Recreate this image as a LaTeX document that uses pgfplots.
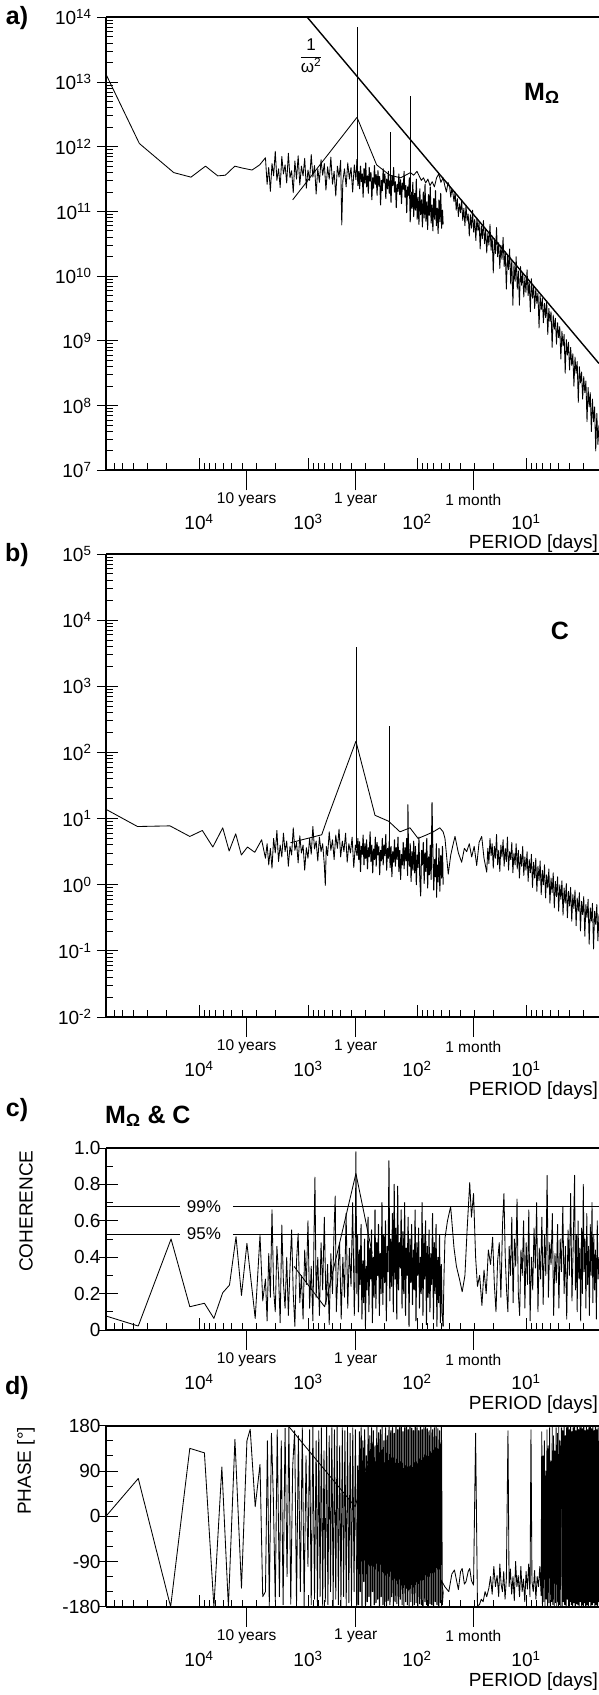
\documentclass[border=0pt]{standalone}
\usepackage{fontspec}
\setmainfont{Liberation Sans}
\usepackage{pgfplots}
\pgfplotsset{compat=1.18}
\newcommand\tl{\fontsize{19}{22}\selectfont}
\newcommand\sml{\fontsize{15.5}{18}\selectfont}
\newcommand\pct{\fontsize{17}{19}\selectfont}
\newcommand\pl{\fontsize{25}{28}\selectfont\bfseries}
\newcommand\sq[1]{10\textsuperscript{#1}}
\pgfplotsset{
 common/.style={
  scale only axis, width=493pt,
  axis x line*=box, axis y line*=left,
  xmin=0.33, xmax=4.853, x dir=reverse,
  xtick={1,2,3,4}, xticklabels={\sq{1},\sq{2},\sq{3},\sq{4}},
  minor xtick={0.477,0.602,0.699,0.778,0.845,0.903,0.954,1.301,1.477,1.602,1.699,1.778,1.845,1.903,1.954,2.301,2.477,2.602,2.699,2.778,2.845,2.903,2.954,3.301,3.477,3.602,3.699,3.778,3.845,3.903,3.954,4.301,4.477,4.602,4.699,4.778,4.845},
  extra x ticks={3.5626,2.5626,1.483},
  extra x tick style={tick align=outside, major tick length=20pt, xticklabel={}},
  xticklabel style={font=\tl, anchor=center, yshift=-52pt},
  yticklabel style={font=\tl},
  xtick pos=left, ytick pos=left,
  tick align=inside, major tick length=12pt, minor tick length=7pt,
  tick style={black, line width=0.9pt},
  axis line style={line width=1.8pt},
  clip mode=individual,
  cycle list={{black,mark=none}},
  every axis plot/.append style={line width=0.85pt},
  every axis plot post/.append style={black, mark=none, line join=round},
 }
}
\newcommand\xlabs[1]{%
 \node[font=\sml] at (axis cs:3.5626,#1) [yshift=-29.5pt] {10 years};
 \node[font=\sml] at (axis cs:2.5626,#1) [yshift=-29.5pt] {1 year};
 \node[font=\sml] at (axis cs:1.483,#1) [yshift=-29.5pt] {1 month};}
\begin{document}
\begin{tikzpicture}
\useasboundingbox (0,0) rectangle (599pt,-1695pt);
% ---------------- panel a
\begin{axis}[common, at={(106pt,-470.3pt)}, anchor=south west, height=453pt,
 ymin=7, ymax=14, ytick={7,8,9,10,11,12,13,14},
 yticklabels={\sq{7},\sq{8},\sq{9},\sq{10},\sq{11},\sq{12},\sq{13},\sq{14}},
 minor ytick={7.301,7.477,7.602,7.699,7.778,7.845,7.903,7.954,8.301,8.477,8.602,8.699,8.778,8.845,8.903,8.954,9.301,9.477,9.602,9.699,9.778,9.845,9.903,9.954,10.301,10.477,10.602,10.699,10.778,10.845,10.903,10.954,11.301,11.477,11.602,11.699,11.778,11.845,11.903,11.954,12.301,12.477,12.602,12.699,12.778,12.845,12.903,12.954,13.301,13.477,13.602,13.699,13.778,13.845,13.903,13.954},
 extra y ticks={7,8,9,10,11,12,13,14},
 extra y tick style={tick align=outside, major tick length=9pt, yticklabel={}},
 yticklabel style={xshift=-11pt}]
\addplot coordinates {(4.853,13.12)(4.547,12.05)(4.231,11.60)(4.073,11.53)(3.940,11.70)(3.828,11.55)(3.758,11.56)(3.671,11.70)(3.600,11.67)(3.513,11.64)(3.443,11.72)(3.390,11.83)
(3.375,11.42)(3.360,11.68)(3.345,11.31)(3.330,11.74)(3.315,11.55)(3.300,11.93)(3.285,11.48)(3.270,11.66)(3.255,11.37)(3.240,11.85)(3.225,11.58)(3.210,11.72)(3.195,11.44)(3.180,11.90)(3.165,11.52)(3.150,11.63)(3.135,11.29)(3.120,11.78)(3.105,11.50)(3.090,11.86)(3.075,11.41)(3.060,11.70)(3.045,11.55)(3.030,11.82)(3.015,11.36)(3.000,11.64)(2.985,11.48)(2.970,11.88)(2.955,11.53)(2.940,11.71)(2.925,11.27)(2.910,11.66)(2.895,11.45)(2.880,11.80)(2.865,11.56)(2.850,11.74)(2.835,11.33)(2.820,11.69)(2.805,11.50)(2.790,11.84)(2.775,11.42)(2.760,11.62)(2.745,11.24)(2.730,11.70)(2.715,11.53)(2.700,11.79)(2.690,10.79)(2.680,11.47)(2.665,11.66)(2.650,11.38)(2.635,11.75)(2.620,11.50)(2.605,11.68)(2.590,11.30)(2.575,11.72)(2.560,11.49)(2.550,11.81)};
\addplot[line width=1pt] coordinates {(2.550,11.81)
(2.542,11.40)(2.534,11.62)(2.526,11.35)(2.518,11.70)(2.510,11.46)(2.502,11.58)(2.494,11.22)(2.486,11.66)(2.478,11.44)(2.470,11.75)(2.462,11.38)(2.454,11.55)(2.446,11.28)(2.438,11.68)(2.430,11.47)(2.422,11.60)(2.414,11.18)(2.406,11.52)(2.398,11.36)(2.390,11.71)(2.382,11.42)(2.374,11.57)(2.366,11.25)(2.358,11.63)(2.350,11.39)(2.342,11.54)(2.334,11.10)(2.326,11.48)(2.318,11.32)(2.310,11.66)(2.302,11.44)(2.294,11.58)(2.286,11.20)(2.278,11.50)(2.270,11.35)(2.262,11.62)(2.254,11.28)(2.246,11.47)(2.238,11.14)(2.230,11.55)(2.222,11.40)(2.214,11.68)(2.206,11.30)(2.198,11.46)(2.190,11.06)(2.182,11.42)(2.174,11.31)(2.166,11.58)(2.158,11.26)(2.150,11.49)(2.142,11.12)(2.134,11.44)(2.126,11.34)(2.118,11.62)(2.110,11.22)(2.102,11.40)(2.094,10.98)(2.086,11.38)(2.078,11.25)(2.070,11.52)(2.062,10.84)(2.054,11.30)(2.046,11.05)(2.038,11.45)(2.030,10.92)(2.022,11.28)(2.014,11.02)(2.006,11.50)(1.998,10.88)(1.990,11.22)(1.982,10.80)(1.974,11.35)(1.966,10.95)(1.958,11.18)(1.950,10.76)(1.942,11.30)(1.934,10.90)(1.926,11.42)(1.918,10.85)(1.910,11.15)(1.902,10.72)(1.894,11.26)(1.886,10.94)(1.878,11.38)(1.870,10.82)(1.862,11.10)(1.854,10.70)(1.846,11.20)(1.838,10.88)(1.830,11.32)(1.822,10.78)(1.814,11.05)(1.806,10.66)(1.798,11.18)(1.790,10.84)(1.782,11.28)(1.774,10.74)(1.766,11.02)(1.760,10.80)};
% low resolution spectrum
\addplot coordinates {(3.14,11.18)(2.55,12.455)(2.37,11.72)(2.25,11.56)(2.15,11.52)(2.06,11.60)};
% daily series
\addplot coordinates {(2.060,11.60)(2.030,11.56)(2.000,11.62)(1.980,11.55)(1.960,11.48)(1.940,11.52)(1.920,11.44)(1.900,11.50)(1.880,11.40)(1.860,11.46)(1.840,11.38)(1.820,11.52)(1.800,11.58)(1.780,11.45)(1.760,11.52)(1.745,11.40)(1.730,11.30)(1.715,11.45)(1.700,11.38)(1.690,11.22)(1.680,11.35)(1.670,11.28)(1.660,11.15)(1.650,11.30)
(1.640,11.02)(1.630,11.20)(1.620,10.92)(1.610,11.12)(1.600,10.98)(1.590,11.18)(1.580,10.86)(1.570,11.05)(1.560,10.78)(1.550,11.10)(1.540,10.85)(1.530,10.96)(1.520,10.62)(1.510,10.95)(1.500,10.74)(1.490,11.02)(1.480,10.68)(1.470,10.88)(1.460,10.55)(1.450,10.90)(1.440,10.70)(1.430,10.84)(1.420,10.42)(1.410,10.78)(1.400,10.58)(1.390,10.86)(1.380,10.50)(1.370,10.72)(1.360,10.36)(1.350,10.66)(1.340,10.48)(1.330,10.80)(1.320,10.40)(1.310,10.62)(1.300,10.05)(1.290,10.58)(1.280,10.35)(1.270,10.75)(1.260,10.30)(1.250,10.52)(1.240,10.12)(1.230,10.48)(1.220,10.26)(1.210,10.60)(1.200,10.15)(1.190,10.38)(1.180,9.80)(1.170,10.32)(1.160,10.10)(1.150,10.42)(1.140,9.88)(1.130,10.25)(1.120,9.55)(1.110,10.18)(1.100,9.92)(1.090,10.30)(1.080,9.80)(1.070,10.08)(1.060,9.55)(1.050,10.15)(1.040,9.86)(1.030,10.05)(1.020,9.68)(1.010,9.98)(1.000,9.75)(0.990,10.10)(0.980,9.70)(0.970,9.92)(0.960,9.45)(0.950,9.96)(0.940,9.66)(0.930,9.85)(0.920,9.50)(0.910,9.80)(0.900,9.58)(0.890,9.74)(0.880,9.20)(0.870,9.70)(0.860,9.48)(0.850,9.66)(0.840,9.28)(0.830,9.58)(0.820,9.36)(0.810,9.62)(0.800,9.10)(0.790,9.50)(0.780,9.30)(0.770,9.45)(0.760,8.90)(0.750,9.40)(0.740,9.18)(0.730,9.35)(0.720,8.95)(0.710,9.28)(0.700,9.05)(0.690,9.22)(0.680,8.72)(0.670,9.15)(0.660,8.92)(0.650,9.10)(0.640,8.50)(0.630,9.02)(0.620,8.78)(0.610,8.98)(0.600,8.55)(0.590,8.90)(0.580,8.62)(0.570,8.80)(0.560,8.30)(0.550,8.75)(0.540,8.50)(0.530,8.68)(0.520,8.05)(0.510,8.60)(0.500,8.35)(0.490,8.52)(0.480,8.10)(0.470,8.45)(0.460,8.20)(0.450,8.38)(0.440,7.75)(0.430,8.28)(0.420,7.98)(0.410,8.20)(0.400,7.60)(0.390,8.10)(0.380,7.75)(0.370,7.98)(0.360,7.30)(0.350,7.88)(0.340,7.40)(0.330,7.70)};
% spectral lines
\addplot coordinates {(2.55,11.6)(2.55,13.85)};
\addplot coordinates {(2.241,11.4)(2.241,12.23)};
\addplot coordinates {(2.064,11.3)(2.064,12.79)};
% 1/omega^2
\addplot[line width=1.4pt] coordinates {(3.006,14)(0.33,8.65)};
\xlabs{7}
\end{axis}
% ---------------- panel b
\begin{axis}[common, at={(106pt,-1017pt)}, anchor=south west, height=463pt,
 ymin=-2, ymax=5, ytick={-2,-1,0,1,2,3,4,5},
 yticklabels={\sq{-2},\sq{-1},\sq{0},\sq{1},\sq{2},\sq{3},\sq{4},\sq{5}},
 minor ytick={-1.699,-1.523,-1.398,-1.301,-1.222,-1.155,-1.097,-1.046,-0.699,-0.523,-0.398,-0.301,-0.222,-0.155,-0.097,-0.046,0.301,0.477,0.602,0.699,0.778,0.845,0.903,0.954,1.301,1.477,1.602,1.699,1.778,1.845,1.903,1.954,2.301,2.477,2.602,2.699,2.778,2.845,2.903,2.954,3.301,3.477,3.602,3.699,3.778,3.845,3.903,3.954,4.301,4.477,4.602,4.699,4.778,4.845,4.903,4.954},
 extra y ticks={-2,-1,0,1,2,3,4,5},
 extra y tick style={tick align=outside, major tick length=9pt, yticklabel={}},
 yticklabel style={xshift=-11pt}]
\addplot coordinates {(4.853,1.14)(4.564,0.88)(4.266,0.89)(4.084,0.73)(3.969,0.82)(3.873,0.57)(3.782,0.86)(3.723,0.51)(3.663,0.77)(3.611,0.45)(3.555,0.57)(3.488,0.49)(3.425,0.68)(3.390,0.40)
(3.375,0.62)(3.360,0.30)(3.345,0.55)(3.330,0.25)(3.315,0.70)(3.300,0.48)(3.285,0.82)(3.270,0.35)(3.255,0.60)(3.240,0.42)(3.225,0.78)(3.210,0.50)(3.195,0.66)(3.180,0.28)(3.165,0.58)(3.150,0.45)(3.135,0.86)(3.120,0.52)(3.105,0.64)(3.090,0.33)(3.075,0.74)(3.060,0.48)(3.045,0.60)(3.030,0.22)(3.015,0.56)(3.000,0.40)(2.985,0.70)(2.970,0.46)(2.955,0.88)(2.940,0.54)(2.925,0.66)(2.910,0.36)(2.895,0.72)(2.880,0.50)(2.865,0.62)(2.850,0.30)(2.841,-0.01)(2.832,0.58)(2.820,0.44)(2.805,0.80)(2.790,0.52)(2.775,0.68)(2.760,0.38)(2.745,0.75)(2.730,0.55)(2.715,0.84)(2.700,0.42)(2.685,0.66)(2.670,0.50)(2.655,0.78)(2.640,0.34)(2.625,0.62)(2.610,0.48)(2.595,0.72)(2.580,0.26)(2.565,0.60)(2.550,0.44)};
\addplot[line width=1pt] coordinates {(2.550,0.44)
(2.542,0.70)(2.534,0.38)(2.526,0.65)(2.518,0.20)(2.510,0.58)(2.502,0.46)(2.494,0.75)(2.486,0.30)(2.478,0.62)(2.470,0.40)(2.462,0.68)(2.454,0.24)(2.446,0.56)(2.438,0.42)(2.430,0.80)(2.422,0.35)(2.414,0.60)(2.406,0.18)(2.398,0.54)(2.390,0.38)(2.382,0.72)(2.374,0.28)(2.366,0.64)(2.358,0.45)(2.350,0.58)(2.342,0.15)(2.334,0.52)(2.326,0.36)(2.318,0.70)(2.310,0.30)(2.302,0.60)(2.294,0.44)(2.286,0.76)(2.278,0.22)(2.270,0.55)(2.262,0.40)(2.254,0.66)(2.246,0.26)(2.238,0.58)(2.230,0.12)(2.222,0.50)(2.214,0.34)(2.206,0.68)(2.198,0.28)(2.190,0.56)(2.182,0.38)(2.174,0.72)(2.166,0.20)(2.158,0.52)(2.150,0.08)(2.142,0.46)(2.134,0.30)(2.126,0.64)(2.118,0.24)(2.110,0.56)(2.102,0.36)(2.094,0.70)(2.086,0.14)(2.083,1.21)(2.078,0.48)(2.070,0.28)(2.062,0.62)(2.054,0.05)(2.046,0.50)(2.038,0.22)(2.030,0.66)(2.022,0.18)(2.014,0.58)(2.006,0.00)(1.998,0.45)(1.990,0.26)(1.982,0.72)(1.974,0.10)(1.966,-0.17)(1.958,0.52)(1.950,0.30)(1.942,0.64)(1.934,0.02)(1.926,0.48)(1.918,0.20)(1.910,0.70)(1.902,-0.05)(1.894,0.42)(1.886,0.15)(1.878,0.60)(1.870,0.08)(1.862,1.24)(1.854,0.50)(1.846,-0.08)(1.838,0.38)(1.830,0.12)(1.822,0.62)(1.820,-0.19)(1.814,0.30)(1.806,0.04)(1.798,0.55)(1.790,-0.10)(1.782,0.44)(1.774,0.10)(1.766,0.58)(1.760,0.00)};
\addplot coordinates {(3.16,0.635)(2.874,0.755)(2.82,1.01)(2.56,2.17)(2.385,1.05)(2.26,0.96)(2.156,0.80)(2.064,0.86)(1.99,0.70)(1.91,0.755)(1.85,0.80)(1.79,0.86)};
\addplot coordinates {(1.790,0.86)(1.760,0.80)(1.743,0.70)(1.713,0.16)(1.690,0.45)(1.670,0.60)(1.651,0.73)(1.620,0.48)(1.590,0.34)(1.565,0.55)(1.544,0.50)(1.520,0.62)(1.498,0.42)(1.475,0.58)(1.452,0.29)(1.430,0.64)(1.406,0.73)(1.385,0.40)(1.360,0.19)(1.350,0.55)(1.340,0.32)(1.330,0.70)(1.320,0.44)(1.310,0.62)(1.300,0.25)(1.290,0.58)(1.280,0.40)(1.270,0.76)(1.260,0.30)(1.250,0.52)(1.240,0.20)(1.230,0.60)(1.220,0.42)(1.210,0.68)(1.200,0.28)(1.190,0.55)(1.180,0.35)(1.170,0.72)(1.160,0.22)(1.150,0.50)(1.140,0.38)(1.130,0.64)(1.120,0.18)(1.110,0.48)(1.100,0.30)(1.090,0.62)(1.080,0.24)(1.070,0.52)(1.060,0.10)(1.050,0.46)(1.040,0.28)(1.030,0.58)(1.020,0.14)(1.010,0.42)(1.000,0.22)(0.990,0.50)(0.980,0.05)(0.970,0.38)(0.960,0.18)(0.950,0.46)(0.940,-0.04)(0.930,0.34)(0.920,0.10)(0.910,0.40)(0.900,-0.10)(0.890,0.28)(0.880,0.06)(0.870,0.36)(0.860,-0.15)(0.850,0.22)(0.840,0.00)(0.830,0.30)(0.820,-0.20)(0.810,0.15)(0.800,-0.05)(0.790,0.24)(0.780,-0.28)(0.770,0.10)(0.760,-0.12)(0.750,0.18)(0.740,-0.35)(0.730,0.05)(0.720,-0.18)(0.710,0.12)(0.700,-0.40)(0.690,0.00)(0.680,-0.22)(0.670,0.06)(0.660,-0.46)(0.650,-0.05)(0.640,-0.28)(0.630,0.02)(0.620,-0.50)(0.610,-0.10)(0.600,-0.32)(0.590,-0.04)(0.580,-0.55)(0.570,-0.15)(0.560,-0.36)(0.550,-0.08)(0.540,-0.62)(0.530,-0.20)(0.520,-0.40)(0.510,-0.12)(0.500,-0.70)(0.490,-0.25)(0.480,-0.45)(0.470,-0.18)(0.460,-0.78)(0.450,-0.30)(0.440,-0.50)(0.430,-0.22)(0.420,-0.90)(0.410,-0.35)(0.400,-0.55)(0.390,-0.28)(0.380,-0.97)(0.370,-0.40)(0.360,-0.60)(0.350,-0.30)(0.340,-0.85)(0.330,-0.45)};
\addplot coordinates {(2.56,0.55)(2.56,3.59)};
\addplot coordinates {(2.257,0.6)(2.257,2.40)};
\xlabs{-2}
\end{axis}
% ---------------- panel c
\begin{axis}[common, at={(106pt,-1330pt)}, anchor=south west, height=182pt,
 ymin=0, ymax=1, ytick={0,0.2,0.4,0.6,0.8,1}, yticklabels={0,0.2,0.4,0.6,0.8,1.0},
 minor ytick={0.1,0.3,0.5,0.7,0.9},
 extra y ticks={0,0.2,0.4,0.6,0.8,1},
 extra y tick style={tick align=outside, major tick length=7pt, yticklabel={}},
 yticklabel style={xshift=-2pt}]
\addplot coordinates {(4.853,0.077)(4.557,0.022)(4.256,0.50)(4.084,0.128)(3.950,0.147)(3.863,0.064)(3.782,0.205)(3.720,0.247)(3.660,0.513)(3.610,0.19)(3.560,0.476)(3.484,0.064)(3.440,0.52)(3.415,0.16)(3.390,0.28)
(3.375,0.05)(3.360,0.42)(3.345,0.18)(3.330,0.66)(3.315,0.22)(3.300,0.10)(3.285,0.46)(3.270,0.30)(3.255,0.04)(3.240,0.577)(3.225,0.26)(3.210,0.12)(3.195,0.40)(3.180,0.08)(3.165,0.34)(3.150,0.55)(3.135,0.20)(3.120,0.02)(3.105,0.38)(3.090,0.53)(3.075,0.15)(3.060,0.30)(3.045,0.06)(3.030,0.44)(3.015,0.25)(3.000,0.60)(2.985,0.12)(2.970,0.35)(2.955,0.05)(2.945,0.50)(2.936,0.84)(2.925,0.18)(2.910,0.40)(2.895,0.08)(2.880,0.48)(2.865,0.22)(2.850,0.62)(2.835,0.14)(2.820,0.36)(2.805,0.03)(2.790,0.42)(2.775,0.20)(2.760,0.56)(2.750,0.736)(2.740,0.10)(2.725,0.32)(2.710,0.48)(2.695,0.06)(2.680,0.40)(2.665,0.18)(2.650,0.64)(2.635,0.12)(2.620,0.45)(2.605,0.24)(2.590,0.70)(2.575,0.08)(2.568,0.30)(2.560,0.98)(2.552,0.20)(2.545,0.52)};
\addplot[line width=1pt] coordinates {(2.545,0.52)
(2.537,0.10)(2.529,0.44)(2.521,0.25)(2.513,0.58)(2.505,0.06)(2.497,0.38)(2.489,0.15)(2.481,0.50)(2.473,0.02)(2.465,0.35)(2.457,0.22)(2.449,0.62)(2.441,0.10)(2.433,0.45)(2.425,0.28)(2.417,0.55)(2.409,0.04)(2.401,0.40)(2.393,0.18)(2.385,0.66)(2.377,0.12)(2.369,0.48)(2.361,0.30)(2.353,0.58)(2.345,0.08)(2.337,0.42)(2.329,0.20)(2.321,0.70)(2.313,0.14)(2.305,0.52)(2.297,0.26)(2.289,0.60)(2.281,0.05)(2.273,0.46)(2.265,0.32)(2.257,0.93)(2.249,0.16)(2.241,0.50)(2.233,0.24)(2.225,0.64)(2.217,0.10)(2.209,0.80)(2.201,0.28)(2.193,0.56)(2.185,0.06)(2.177,0.79)(2.169,0.22)(2.161,0.48)(2.153,0.34)(2.145,0.66)(2.137,0.12)(2.129,0.54)(2.121,0.20)(2.113,0.70)(2.105,0.08)(2.097,0.45)(2.089,0.30)(2.081,0.62)(2.073,0.02)(2.065,0.50)(2.057,0.26)(2.049,0.58)(2.041,0.14)(2.033,0.44)(2.025,0.22)(2.017,0.66)(2.009,0.05)(2.001,0.48)(1.993,0.30)(1.985,0.56)(1.977,0.12)(1.969,0.40)(1.961,0.20)(1.953,0.70)(1.945,0.08)(1.937,0.52)(1.929,0.28)(1.921,0.60)(1.913,0.03)(1.905,0.46)(1.897,0.18)(1.889,0.55)(1.881,0.10)(1.873,0.42)(1.865,0.25)(1.857,0.64)(1.849,0.06)(1.841,0.48)(1.833,0.20)(1.825,0.58)(1.817,0.02)(1.809,0.40)(1.801,0.15)(1.793,0.52)(1.785,0.04)(1.777,0.36)(1.769,0.10)(1.760,0.02)};
\addplot coordinates {(3.128,0.35)(2.847,0.128)(2.56,0.86)(2.41,0.42)};
\addplot coordinates {(1.760,0.02)(1.752,0.30)(1.743,0.505)(1.720,0.60)(1.691,0.678)(1.660,0.45)(1.638,0.35)(1.610,0.28)(1.585,0.21)(1.560,0.30)(1.540,0.55)(1.516,0.81)(1.500,0.62)(1.481,0.75)(1.462,0.40)(1.445,0.24)(1.425,0.30)(1.404,0.135)(1.385,0.33)(1.365,0.20)(1.345,0.44)(1.325,0.36)(1.306,0.51)(1.290,0.25)(1.275,0.10)(1.260,0.38)(1.245,0.48)(1.230,0.18)(1.215,0.58)(1.202,0.75)(1.190,0.40)(1.178,0.22)(1.166,0.10)(1.154,0.46)(1.142,0.30)(1.130,0.62)(1.118,0.15)(1.106,0.50)(1.094,0.35)(1.082,0.72)(1.070,0.20)(1.058,0.08)(1.046,0.44)(1.034,0.30)(1.022,0.60)(1.010,0.12)(0.998,0.48)(0.986,0.25)(0.974,0.66)(0.962,0.05)(0.950,0.40)(0.938,0.22)(0.926,0.56)(0.914,0.34)(0.902,0.70)(0.890,0.10)(0.878,0.45)(0.866,0.28)(0.854,0.62)(0.842,0.14)(0.830,0.52)(0.818,0.30)(0.806,0.85)(0.794,0.18)(0.782,0.48)(0.770,0.36)(0.758,0.64)(0.746,0.08)(0.734,0.42)(0.722,0.26)(0.710,0.58)(0.698,0.12)(0.686,0.50)(0.674,0.32)(0.662,0.68)(0.650,0.20)(0.638,0.46)(0.626,0.06)(0.614,0.55)(0.602,0.30)(0.590,0.75)(0.578,0.16)(0.566,0.48)(0.554,0.85)(0.546,0.22)(0.538,0.52)(0.530,0.10)(0.522,0.60)(0.514,0.28)(0.506,0.45)(0.498,0.05)(0.490,0.56)(0.482,0.20)(0.474,0.80)(0.466,0.32)(0.458,0.50)(0.450,0.12)(0.442,0.64)(0.434,0.25)(0.426,0.46)(0.418,0.08)(0.410,0.58)(0.402,0.30)(0.394,0.70)(0.386,0.15)(0.378,0.52)(0.370,0.22)(0.362,0.44)(0.354,0.06)(0.346,0.60)(0.338,0.28)(0.330,0.40)};
% confidence levels
\addplot[line width=1pt] coordinates {(4.853,0.68)(4.174,0.68)};
\addplot[line width=1pt] coordinates {(3.688,0.68)(0.33,0.68)};
\addplot[line width=1pt] coordinates {(4.853,0.527)(4.174,0.527)};
\addplot[line width=1pt] coordinates {(3.688,0.527)(0.33,0.527)};
\node[font=\pct] at (axis cs:3.954,0.68) {99\%};
\node[font=\pct] at (axis cs:3.954,0.527) {95\%};
\xlabs{0}
\end{axis}
% ---------------- panel d
\begin{axis}[common, at={(106pt,-1606.7pt)}, anchor=south west, height=181pt,
 ymin=-180, ymax=180, ytick={-180,-90,0,90,180}, yticklabels={-180,-90,0,90,180},
 minor ytick={-150,-120,-60,-30,30,60,120,150},
 extra y ticks={-180,-90,0,90,180},
 extra y tick style={tick align=outside, major tick length=7pt, yticklabel={}},
 yticklabel style={xshift=-2pt}]
\addplot coordinates {(4.853,0)(4.557,75)(4.260,-180)(4.084,135)(3.950,126)(3.863,-180)(3.790,98)(3.730,-180)(3.670,153)(3.610,-143)(3.560,150)(3.530,173)(3.484,19)(3.440,103)(3.415,-160)(3.390,-150)
(3.372,150)(3.355,-178)(3.335,165)(3.318,40)(3.300,-170)(3.282,172)(3.262,-160)(3.245,150)(3.228,-176)(3.210,175)(3.192,-120)(3.175,178)(3.158,-175)(3.140,100)(3.122,170)(3.105,-178)(3.088,160)(3.070,-150)(3.052,176)(3.035,-178)(3.018,120)(3.000,-100)(2.985,172)(2.970,-176)(2.955,178)(2.940,-165)(2.925,150)
(2.913,-178)(2.901,170)(2.889,-160)(2.877,176)(2.865,-178)(2.853,130)(2.841,-170)(2.829,178)(2.817,-176)(2.805,160)(2.793,-150)(2.781,176)(2.769,-178)(2.757,172)(2.745,-165)(2.733,178)(2.721,-176)(2.709,140)(2.697,-178)(2.685,176)(2.673,-160)(2.661,170)(2.649,-178)(2.637,178)(2.625,-172)(2.613,165)(2.601,-178)(2.589,176)(2.577,-150)(2.565,172)(2.553,-178)};
\addplot[line width=1.1pt] coordinates {(2.553,-178)(2.544,100)(2.536,-176)(2.528,168)(2.520,-150)(2.512,176)(2.504,-178)(2.496,150)(2.488,-130)(2.480,172)(2.472,-176)(2.464,120)(2.456,-170)(2.448,178)(2.440,-160)(2.432,160)(2.424,-178)(2.416,176)(2.408,-150)(2.400,170)(2.392,-176)(2.384,140)(2.376,-172)(2.368,178)(2.360,-165)(2.352,166)(2.344,-178)(2.336,172)(2.328,-160)(2.320,178)(2.312,-176)(2.304,150)(2.296,-170)(2.288,176)(2.280,-178)(2.272,160)(2.264,-168)(2.256,178)(2.248,-176)(2.240,170)(2.232,-160)(2.224,176)(2.216,-178)(2.208,165)(2.200,-170)(2.192,178)(2.184,-174)(2.176,172)(2.168,-178)(2.160,176)(2.152,-165)(2.144,178)(2.136,-176)(2.128,168)(2.120,-178)(2.112,176)(2.104,-170)(2.096,178)(2.088,-176)(2.080,172)(2.072,-178)(2.064,178)(2.056,-170)(2.048,175)(2.040,-178)(2.032,170)(2.024,-176)(2.016,178)(2.008,-172)(2.000,176)(1.992,-178)(1.984,170)(1.976,-174)(1.968,178)(1.960,-176)(1.952,172)(1.944,-178)(1.936,176)(1.928,-170)(1.920,178)(1.912,-176)(1.904,174)(1.896,-178)(1.888,170)(1.880,-174)(1.872,178)(1.864,-176)(1.856,172)(1.848,-178)(1.840,176)(1.832,-170)(1.824,178)(1.816,-176)(1.808,174)(1.800,-178)(1.792,170)(1.784,-172)(1.776,178)(1.768,-176)(1.760,-150)};
\addplot coordinates {(3.174,178)(2.567,19)(2.45,110)};
\addplot coordinates {(1.760,-150)(1.778,-127)(1.745,-140)(1.708,-150)(1.680,-115)(1.656,-107)(1.620,-146)(1.600,-110)(1.585,-104)(1.565,-135)(1.550,-130)(1.530,-110)(1.516,-104)(1.500,-128)(1.481,-137)(1.462,165)(1.445,-178)(1.427,-176)(1.410,-165)(1.393,-170)(1.375,-150)(1.360,-160)(1.340,-143)(1.325,-120)(1.310,-155)(1.295,-100)(1.280,-140)(1.265,-118)(1.250,-160)(1.240,-95)(1.228,-135)(1.216,-150)(1.204,-110)(1.192,-165)(1.180,-125)(1.165,170)(1.155,-140)(1.143,-105)(1.131,-155)(1.119,-120)(1.107,-168)(1.095,-90)(1.083,-140)(1.071,-118)(1.059,-160)(1.047,-100)(1.035,-150)(1.023,-125)(1.011,-170)(0.999,-110)(0.987,-145)(0.975,-95)(0.963,-160)(0.954,172)(0.945,-130)(0.933,-150)(0.921,-108)(0.909,-165)(0.897,-120)(0.885,-140)(0.873,-100)(0.861,-158)
(0.855,168)(0.849,-176)(0.843,120)(0.837,-170)(0.831,150)(0.825,-178)(0.819,90)(0.813,-165)(0.807,172)(0.801,-178)(0.795,140)(0.789,-172)(0.783,176)(0.777,-178)(0.771,110)(0.765,-170)(0.759,178)(0.753,-176)(0.747,160)(0.741,-178)(0.735,130)(0.729,-172)(0.723,176)(0.717,-178)(0.711,165)(0.705,-170)(0.699,178)(0.693,-176)(0.687,150)(0.681,-178)(0.674,176)};
\addplot[line width=1.1pt] coordinates {(0.674,176)(0.668,-178)(0.662,170)(0.656,-170)(0.650,178)(0.644,-176)(0.638,160)(0.632,-178)(0.626,176)(0.620,-165)(0.614,178)(0.608,-178)(0.602,172)(0.596,-170)(0.590,178)(0.584,-176)(0.578,168)(0.572,-178)(0.566,176)(0.560,-172)(0.554,178)(0.548,-178)(0.542,170)(0.536,-174)(0.530,178)(0.524,-176)(0.518,172)(0.512,-178)(0.506,176)(0.500,-170)(0.494,178)(0.488,-178)(0.482,174)(0.476,-176)(0.470,178)(0.464,-172)(0.458,170)(0.452,-178)(0.446,178)(0.440,-176)(0.434,172)(0.428,-178)(0.422,176)(0.416,-170)(0.410,178)(0.404,-178)(0.398,174)(0.392,-176)(0.386,178)(0.380,-172)(0.374,170)(0.368,-178)(0.362,178)(0.356,-176)(0.350,172)(0.344,-178)(0.338,176)(0.332,-170)(0.330,150)};
\xlabs{-180}
\end{axis}
% ---------------- texts
\node[font=\pl] at (17pt,-18pt) {a)};
\node[font=\pl] at (17pt,-555pt) {b)};
\node[font=\pl] at (17pt,-1110pt) {c)};
\node[font=\pl] at (17pt,-1388pt) {d)};
\node[font=\tl, anchor=east, inner sep=0pt] at (598pt,-544pt) {PERIOD [days]};
\node[font=\tl, anchor=east, inner sep=0pt] at (598pt,-1091pt) {PERIOD [days]};
\node[font=\tl, anchor=east, inner sep=0pt] at (598pt,-1405pt) {PERIOD [days]};
\node[font=\tl, anchor=east, inner sep=0pt] at (598pt,-1682pt) {PERIOD [days]};
\node[font=\pl, anchor=base west, inner sep=0pt] at (524pt,-100pt) {M\textsubscript{Ω}};
\node[font=\pl] at (560pt,-631pt) {C};
\node[font=\pl, anchor=base west, inner sep=0pt] at (105pt,-1123pt) {M\textsubscript{Ω} \& C};
\node[font=\tl, rotate=90] at (26pt,-1211pt) {COHERENCE};
\node[font=\tl, rotate=90] at (26pt,-1471pt) {PHASE [°]};
\node[font=\pct] at (311pt,-58pt) {\begin{tabular}{@{}c@{}}1\\[1pt]\hline\rule{0pt}{15pt}ω\textsuperscript{2}\end{tabular}};
\end{tikzpicture}
\end{document}
